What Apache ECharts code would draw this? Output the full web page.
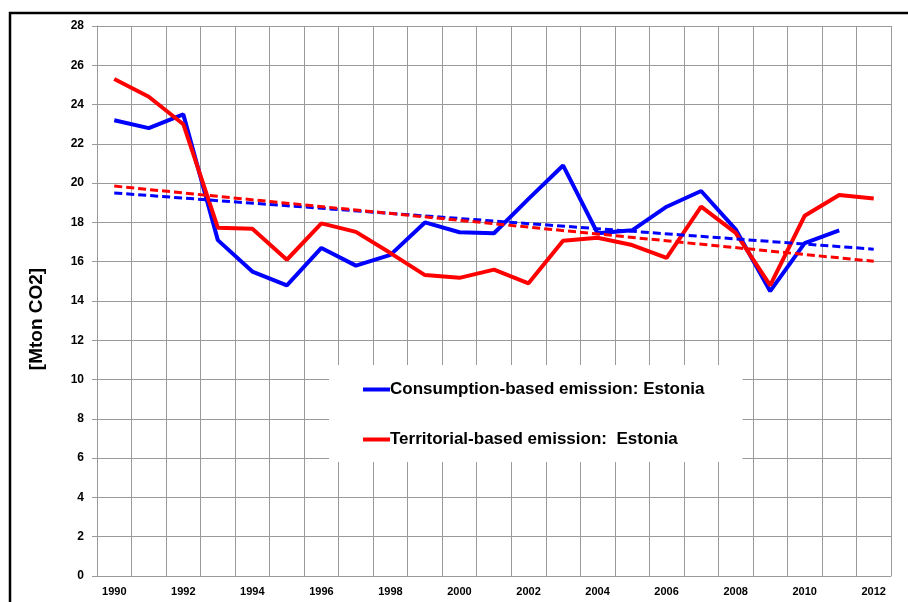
<!DOCTYPE html>
<html lang="en">
<head>
  <meta charset="UTF-8">
  <title>Estonia CO2 emissions</title>
  <style>
    html, body { margin: 0; padding: 0; background: #fff; }
    #chart { width: 908px; height: 602px; }
  </style>
</head>
<body>
  <div id="chart"></div>
  <script src="https://cdn.jsdelivr.net/npm/echarts@6/dist/echarts.min.js"></script>
  <script>
    // data
    var years = ['1990', '1991', '1992', '1993', '1994', '1995', '1996', '1997', '1998', '1999', '2000', '2001',
      '2002', '2003', '2004', '2005', '2006', '2007', '2008', '2009', '2010', '2011', '2012'];
    var consumption = [23.2, 22.8, 23.5, 17.1, 15.5, 14.8, 16.7, 15.8, 16.35, 18.0, 17.5, 17.45,
      19.2, 20.9, 17.45, 17.6, 18.8, 19.6, 17.65, 14.5, 16.95, 17.6, null];
    var territorial = [25.3, 24.4, 23.0, 17.73, 17.68, 16.1, 17.95, 17.52, 16.44, 15.32, 15.18, 15.6,
      14.9, 17.07, 17.22, 16.85, 16.2, 18.8, 17.47, 14.8, 18.34, 19.4, 19.22];
    var consumptionTrend = [['1990', 19.5], ['2012', 16.64]];
    var territorialTrend = [['1990', 19.85], ['2012', 16.02]];
    var seriesNames = ['Consumption-based emission: Estonia', 'Territorial-based emission:  Estonia'];

    var BLUE = '#0000ff', RED = '#ff0000', GRID = '#9a9a9a';
    var font = 'Liberation Sans, Arial, sans-serif';

    var chart = echarts.init(document.getElementById('chart'));
    chart.setOption({
      animation: false,
      grid: { left: 97, right: 17, top: 26, bottom: 26 },
      graphic: [
        { type: 'rect', shape: { x: 10, y: 13, width: 1200, height: 1200 }, style: { fill: 'none', stroke: '#000', lineWidth: 2.5 } },
        { type: 'text', x: 37, y: 319, rotation: Math.PI / 2,
          style: { text: '[Mton CO2]', fontFamily: font, fontWeight: 'bold', fontSize: 19, fill: '#000', align: 'center', verticalAlign: 'middle' } }
      ],
      legend: {
        orient: 'vertical',
        left: 329, top: 365,
        padding: [16, 38, 14, 34],
        backgroundColor: '#fff',
        itemGap: 33,
        icon: 'rect',
        itemWidth: 27, itemHeight: 4,
        textStyle: { fontFamily: font, fontWeight: 'bold', fontSize: 17, color: '#000', padding: [0, 0, 0, -5] },
        data: seriesNames
      },
      xAxis: {
        type: 'category',
        data: years,
        boundaryGap: true,
        axisLine: { lineStyle: { color: GRID } },
        axisTick: { interval: 0, length: 5, lineStyle: { color: GRID } },
        axisLabel: { interval: 1, margin: 10, fontFamily: font, fontWeight: 'bold', fontSize: 11, color: '#000' },
        splitLine: { show: true, interval: 0, lineStyle: { color: GRID, width: 1 } }
      },
      yAxis: {
        type: 'value',
        min: 0, max: 28, interval: 2,
        axisLine: { show: true, lineStyle: { color: GRID } },
        axisTick: { show: true, length: 5, lineStyle: { color: GRID } },
        axisLabel: { margin: 13, fontFamily: font, fontWeight: 'bold', fontSize: 12, color: '#000' },
        splitLine: { lineStyle: { color: GRID, width: 1 } }
      },
      series: [
        { name: seriesNames[0], type: 'line', data: consumption, symbol: 'none', color: BLUE, lineStyle: { width: 4, color: BLUE } },
        { name: seriesNames[1], type: 'line', data: territorial, symbol: 'none', color: RED, lineStyle: { width: 4, color: RED } },
        { name: 'consumption trend', type: 'line', data: consumptionTrend, symbol: 'none', lineStyle: { width: 3, color: BLUE, type: [8, 4] } },
        { name: 'territorial trend', type: 'line', data: territorialTrend, symbol: 'none', lineStyle: { width: 3, color: RED, type: [8, 4] } }
      ]
    });
  </script>
</body>
</html>
